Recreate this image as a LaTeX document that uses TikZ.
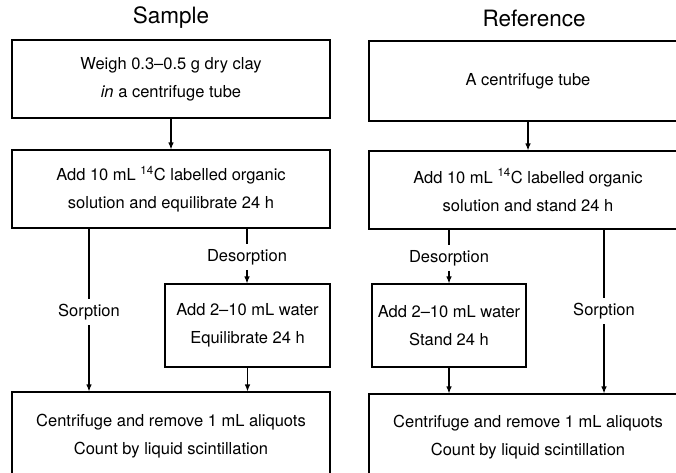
\documentclass[tikz,border=0pt]{standalone}
\usepackage{fontspec}
\setmainfont{TeX Gyre Heros}
\usetikzlibrary{arrows.meta}

\begin{document}
\begin{tikzpicture}[x=1pt, y=-1pt, line width=1.1pt,
  font=\fontsize{16.5}{28}\selectfont,
  box/.style={draw, rectangle, align=center, inner sep=0pt},
  lbl/.style={inner sep=4.5pt},
  ttl/.style={font=\fontsize{22.5}{27}\selectfont},
  arr/.style={-{Latex[length=7pt, width=5.5pt]}}]
  \useasboundingbox (0,0) rectangle (676,472);
  \clip (0,0) rectangle (676,472);
  % sample
  \node[ttl] (lt) at (171,18) {Sample};
  \node[box, minimum width=318pt, minimum height=78pt] (l1) at (171,79)
       {Weigh 0.3--0.5 g dry clay\\\textit{in} a centrifuge tube};
  \node[box, minimum width=318pt, minimum height=78pt] (l2) at (171,189)
       {Add 10 mL \textsuperscript{14}C labelled organic\\solution and equilibrate 24 h};
  \node[lbl] (ldes) at (247,257) {Desorption};
  \node[box, minimum width=165pt, minimum height=83pt] (l3) at (247.5,325.5)
       {Add 2--10 mL water\\Equilibrate 24 h};
  \node[lbl] (lsorp) at (89,312) {Sorption};
  \node[box, minimum width=318pt, minimum height=88pt] (l4) at (171,436)
       {Centrifuge and remove 1 mL aliquots\\Count by liquid scintillation};
  \draw[arr] (l1) -- (l2);
  \draw[arr] (l2.south -| ldes) -- (ldes) -- (l3.north -| ldes);
  \draw[arr] (l2.south -| lsorp) -- (lsorp) -- (l4.north -| lsorp);
  \draw[arr] (l3) -- (l4.north -| l3);
  % reference
  \node[ttl] (rt) at (534,18) {Reference};
  \node[box, minimum width=318pt, minimum height=80pt] (r1) at (528,81)
       {A centrifuge tube};
  \node[box, minimum width=318pt, minimum height=78pt] (r2) at (528,190)
       {Add 10 mL \textsuperscript{14}C labelled organic\\solution and stand 24 h};
  \node[lbl] (rdes) at (449,258) {Desorption};
  \node[box, minimum width=154pt, minimum height=83pt] (r3) at (449,325.5)
       {Add 2--10 mL water\\Stand 24 h};
  \node[lbl] (rsorp) at (604,311) {Sorption};
  \node[box, minimum width=318pt, minimum height=86pt] (r4) at (528,437)
       {Centrifuge and remove 1 mL aliquots\\Count by liquid scintillation};
  \draw[arr] (r1) -- (r2);
  \draw[arr] (r2.south -| rdes) -- (rdes) -- (r3.north -| rdes);
  \draw[arr] (r2.south -| rsorp) -- (rsorp) -- (r4.north -| rsorp);
  \draw[arr] (r3) -- (r4.north -| r3);
\end{tikzpicture}
\end{document}
